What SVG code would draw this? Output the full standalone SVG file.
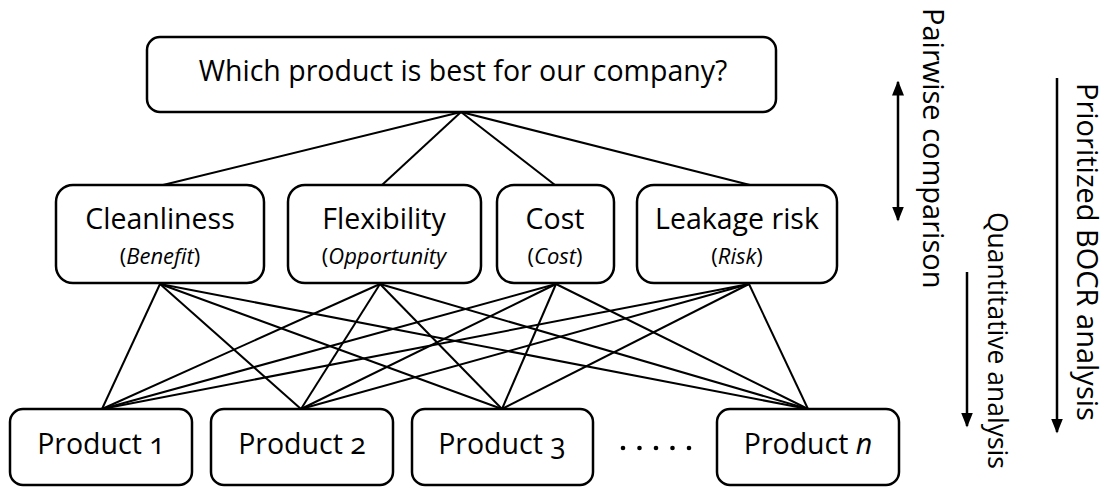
<svg xmlns="http://www.w3.org/2000/svg" width="1109" height="488" viewBox="0 0 1109 488">
<style>
.box{fill:#fff;stroke:#000;stroke-width:2.5}
.t{font-family:"Open Sans","Liberation Sans",sans-serif;fill:#000;text-anchor:middle}
.big{font-size:28.5px}
.sub{font-size:22px}
.num{font-variant-numeric:oldstyle-nums}
.side{font-family:"Open Sans","Liberation Sans",sans-serif;font-size:29px;fill:#000}
.ln{stroke:#000;stroke-width:2;fill:none}
.ar{stroke:#000;stroke-width:2.5;fill:none}
</style>
<defs>
<marker id="ah" viewBox="0 0 10 8" refX="9" refY="4" markerWidth="6" markerHeight="5" orient="auto-start-reverse" markerUnits="strokeWidth">
<path d="M0,0 L10,4 L0,8 Z" fill="#000"/>
</marker>
</defs>
<g id="connectors">
<line class="ln" x1="461" y1="112" x2="163" y2="185"/>
<line class="ln" x1="461" y1="112" x2="382" y2="185"/>
<line class="ln" x1="461" y1="112" x2="555" y2="185"/>
<line class="ln" x1="461" y1="112" x2="750" y2="185"/>
<line class="ln" x1="160" y1="284" x2="102" y2="409"/>
<line class="ln" x1="160" y1="284" x2="301" y2="409"/>
<line class="ln" x1="160" y1="284" x2="502" y2="409"/>
<line class="ln" x1="160" y1="284" x2="808" y2="409"/>
<line class="ln" x1="380" y1="284" x2="102" y2="409"/>
<line class="ln" x1="380" y1="284" x2="301" y2="409"/>
<line class="ln" x1="380" y1="284" x2="502" y2="409"/>
<line class="ln" x1="380" y1="284" x2="808" y2="409"/>
<line class="ln" x1="556" y1="284" x2="102" y2="409"/>
<line class="ln" x1="556" y1="284" x2="301" y2="409"/>
<line class="ln" x1="556" y1="284" x2="502" y2="409"/>
<line class="ln" x1="556" y1="284" x2="808" y2="409"/>
<line class="ln" x1="749" y1="284" x2="102" y2="409"/>
<line class="ln" x1="749" y1="284" x2="301" y2="409"/>
<line class="ln" x1="749" y1="284" x2="502" y2="409"/>
<line class="ln" x1="749" y1="284" x2="808" y2="409"/>
</g>
<g id="goal">
<rect class="box" x="147" y="37" width="629" height="75" rx="13"/>
<text class="t big" x="463" y="81">Which product is best for our company?</text>
</g>
<g id="cleanliness">
<rect class="box" x="56" y="185" width="208" height="98" rx="17"/>
<text class="t big" x="160" y="229">Cleanliness</text>
<text class="t sub" x="160" y="264">(<tspan font-style="italic">Benefit</tspan>)</text>
</g>
<g id="flexibility">
<rect class="box" x="288" y="185" width="193" height="98" rx="17"/>
<text class="t big" x="384" y="229">Flexibility</text>
<text class="t sub" x="384" y="264">(<tspan font-style="italic">Opportunity</tspan></text>
</g>
<g id="cost">
<rect class="box" x="497" y="185" width="117" height="98" rx="17"/>
<text class="t big" x="555" y="229">Cost</text>
<text class="t sub" x="555" y="264">(<tspan font-style="italic">Cost</tspan>)</text>
</g>
<g id="leakage">
<rect class="box" x="637" y="185" width="200" height="98" rx="17"/>
<text class="t big" x="737" y="229">Leakage risk</text>
<text class="t sub" x="737" y="264">(<tspan font-style="italic">Risk</tspan>)</text>
</g>
<g id="product1">
<rect class="box" x="10" y="409" width="182" height="76" rx="13"/>
<text class="t big num" x="101" y="454">Product 1</text>
</g>
<g id="product2">
<rect class="box" x="211" y="409" width="182" height="76" rx="13"/>
<text class="t big num" x="302" y="454">Product 2</text>
</g>
<g id="product3">
<rect class="box" x="412" y="409" width="181" height="76" rx="13"/>
<text class="t big num" x="502" y="454">Product 3</text>
</g>
<g id="dots">
<circle cx="623" cy="448" r="2.3"/>
<circle cx="639.5" cy="448" r="2.3"/>
<circle cx="656" cy="448" r="2.3"/>
<circle cx="672.5" cy="448" r="2.3"/>
<circle cx="689" cy="448" r="2.3"/>
</g>
<g id="productn">
<rect class="box" x="717" y="409" width="182" height="76" rx="13"/>
<text class="t big" x="808" y="454">Product <tspan font-style="italic">n</tspan></text>
</g>
<g id="side">
<line class="ar" x1="898" y1="82" x2="898" y2="220" marker-start="url(#ah)" marker-end="url(#ah)"/>
<line class="ar" x1="1057" y1="78" x2="1057" y2="432" marker-end="url(#ah)"/>
<line class="ar" x1="967" y1="272" x2="967" y2="426" marker-end="url(#ah)"/>
<text class="side" transform="translate(923,8) rotate(90)">Pairwise comparison</text>
<text class="side" style="font-size:26.5px" transform="translate(988,212) rotate(90)">Quantitative analysis</text>
<text class="side" transform="translate(1077,83) rotate(90)">Prioritized BOCR analysis</text>
</g>
</svg>
